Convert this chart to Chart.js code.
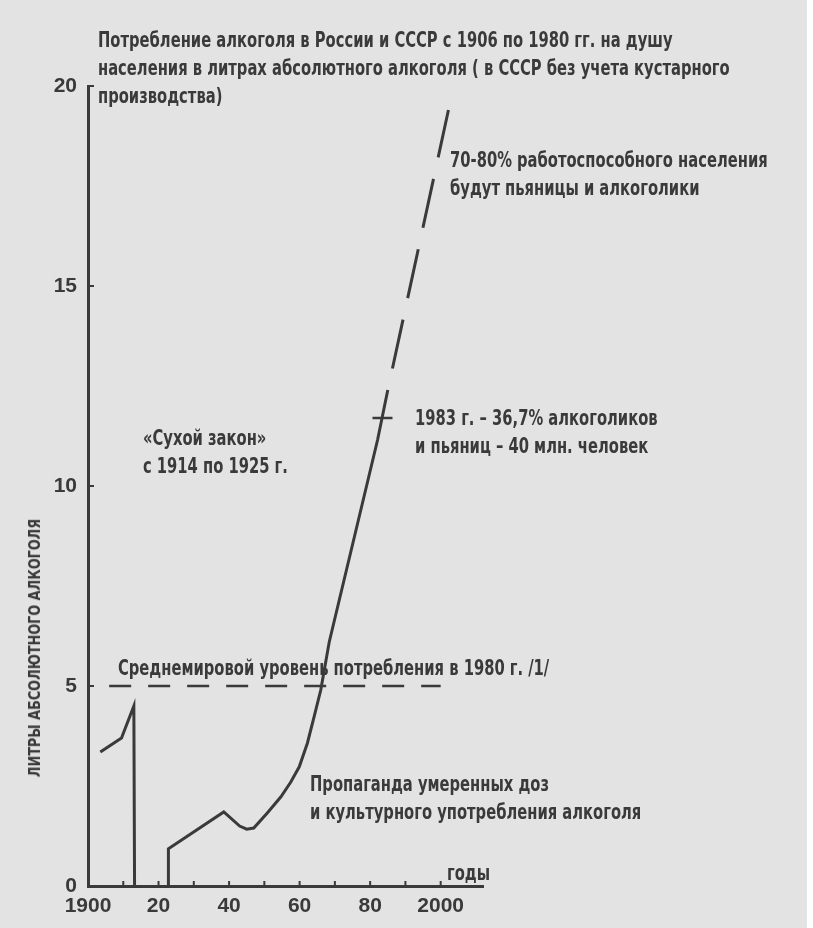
<!DOCTYPE html>
<html lang="ru">
<head>
    <meta charset="UTF-8">
    <title>Потребление алкоголя в России и СССР</title>
    <script src="https://cdn.jsdelivr.net/npm/chart.js"></script>
    <style>
        html, body { margin: 0; padding: 0; background: #fff; }
        #page {
            position: relative;
            width: 807px;
            height: 928px;
            background: #e3e3e3;
            overflow: hidden;
        }
        #chart { position: absolute; left: 0; top: 0; }
        .note {
            position: absolute;
            font-family: 'Liberation Sans Narrow', 'DejaVu Sans Condensed', sans-serif;
            font-weight: bold;
            font-size: 21px;
            line-height: 28px;
            color: #3a3a3a;
            white-space: nowrap;
            transform: scaleX(0.78);
            transform-origin: 0 0;
        }
        .ytitle {
            position: absolute;
            font-family: 'Liberation Sans Narrow', 'DejaVu Sans Condensed', sans-serif;
            font-weight: bold;
            font-size: 15px;
            color: #3a3a3a;
            white-space: nowrap;
            transform: translate(-50%, -50%) rotate(-90deg) scaleX(0.95);
        }
    </style>
</head>
<body>
<div id="page">
    <canvas id="chart" width="813" height="928"></canvas>

    <div class="note" style="left:98px; top:26px;">
        Потребление алкоголя в России и СССР с 1906 по 1980 гг. на душу<br>
        населения в литрах абсолютного алкоголя ( в СССР без учета кустарного<br>
        производства)
    </div>
    <div class="note" style="left:450px; top:146px;">70-80% работоспособного населения<br>будут пьяницы и алкоголики</div>
    <div class="note" style="left:415px; top:404px;">1983 г. – 36,7% алкоголиков<br>и пьяниц – 40 млн. человек</div>
    <div class="note" style="left:143px; top:424px;">«Сухой закон»<br>с 1914 по 1925 г.</div>
    <div class="note" style="left:118px; top:654px;">Среднемировой уровень потребления в 1980 г. /1/</div>
    <div class="note" style="left:310px; top:770px;">Пропаганда умеренных доз<br>и культурного употребления алкоголя</div>
    <div class="note" style="left:447px; top:859px;">годы</div>
    <div class="ytitle" style="left:35px; top:648px;">ЛИТРЫ АБСОЛЮТНОГО АЛКОГОЛЯ</div>
</div>

<script>
// Россия до 1914 г.
const russiaYears = [1903.5, 1909.5, 1913, 1913.2];
const russiaLitres = [3.35, 3.7, 4.5, 0];

// СССР
const ussrYears = [1922.7, 1922.8, 1938.5, 1943, 1945, 1947, 1950.9, 1954.7, 1957.5, 1959.9, 1962.2, 1964.1, 1966, 1968.4, 1982.1, 1985];
const ussrLitres = [0, 0.93, 1.85, 1.5, 1.42, 1.45, 1.83, 2.23, 2.6, 2.98, 3.57, 4.23, 4.9, 6.1, 11.15, 12.4];

// прогноз (пунктир)
const forecastYears = [1985, 2002.2];
const forecastLitres = [12.4, 19.4];

// отметка 1983 г.
const markYears = [1983.5];
const markLitres = [11.7];

// среднемировой уровень 1980 г.
const worldYears = [1906, 2000];
const worldLitres = [5, 5];

const xTickYears = [1900, 1920, 1940, 1960, 1980, 2000];
const xTickNames = ['1900', '20', '40', '60', '80', '2000'];
const yTicks = [0, 5, 10, 15, 20];

const ink = '#3a3a3a';

function pts(xs, ys) {
    return xs.map((x, i) => ({ x: x, y: ys[i] }));
}

// короткие риски внутрь графика
const innerTicks = {
    id: 'innerTicks',
    afterDatasetsDraw(chart) {
        const ctx = chart.ctx;
        const xs = chart.scales.x;
        const ys = chart.scales.y;
        const area = chart.chartArea;
        ctx.save();
        ctx.strokeStyle = ink;
        ctx.lineWidth = 2;
        xs.ticks.forEach(t => {
            if (t.value <= 1900 || t.value > 2000) return;
            const px = xs.getPixelForValue(t.value);
            ctx.beginPath();
            ctx.moveTo(px, area.bottom);
            ctx.lineTo(px, area.bottom - 5);
            ctx.stroke();
        });
        ys.ticks.forEach(t => {
            if (t.value <= 0) return;
            const py = ys.getPixelForValue(t.value);
            ctx.beginPath();
            ctx.moveTo(area.left, py);
            ctx.lineTo(area.left + 6, py);
            ctx.stroke();
        });
        ctx.restore();
    }
};

const lineStyle = {
    borderColor: ink,
    borderWidth: 3,
    pointRadius: 0,
    fill: false,
    tension: 0
};

new Chart(document.getElementById('chart'), {
    type: 'line',
    data: {
        datasets: [
            Object.assign({ label: 'Россия', data: pts(russiaYears, russiaLitres) }, lineStyle),
            Object.assign({ label: 'СССР', data: pts(ussrYears, ussrLitres) }, lineStyle),
            Object.assign({ label: 'Прогноз', data: pts(forecastYears, forecastLitres),
                borderDash: [50, 22], borderDashOffset: 50 }, lineStyle),
            Object.assign({ label: 'Среднемировой уровень', data: pts(worldYears, worldLitres) }, lineStyle,
                { borderWidth: 2.5, borderDash: [22, 17] }),
            {
                type: 'scatter',
                label: '1983',
                data: pts(markYears, markLitres),
                pointStyle: 'line',
                pointRadius: 10,
                pointBorderWidth: 2.5,
                pointBorderColor: ink,
                pointBackgroundColor: ink
            }
        ]
    },
    options: {
        responsive: false,
        animation: false,
        layout: { padding: { left: 0, right: 330, top: 86, bottom: 0 } },
        plugins: {
            legend: { display: false },
            tooltip: { enabled: false },
            title: { display: false }
        },
        scales: {
            x: {
                type: 'linear',
                min: 1900,
                max: 2012,
                afterFit: s => { s.height = 42; },
                border: { display: true, color: ink, width: 3 },
                grid: { drawOnChartArea: false, drawTicks: false },
                ticks: {
                    stepSize: 10,
                    padding: 8,
                    maxRotation: 0,
                    autoSkip: false,
                    color: ink,
                    font: { family: 'Liberation Sans', weight: 'bold', size: 21 },
                    callback: v => {
                        const i = xTickYears.indexOf(v);
                        return i >= 0 ? xTickNames[i] : '';
                    }
                }
            },
            y: {
                min: 0,
                max: 20,
                afterFit: s => { s.width = 88; },
                afterBuildTicks: s => { s.ticks = yTicks.map(v => ({ value: v })); },
                border: { display: true, color: ink, width: 3 },
                grid: { drawOnChartArea: false, drawTicks: false },
                ticks: {
                    padding: 11,
                    color: ink,
                    font: { family: 'Liberation Sans', weight: 'bold', size: 21 }
                }
            }
        }
    },
    plugins: [innerTicks]
});
</script>
</body>
</html>
